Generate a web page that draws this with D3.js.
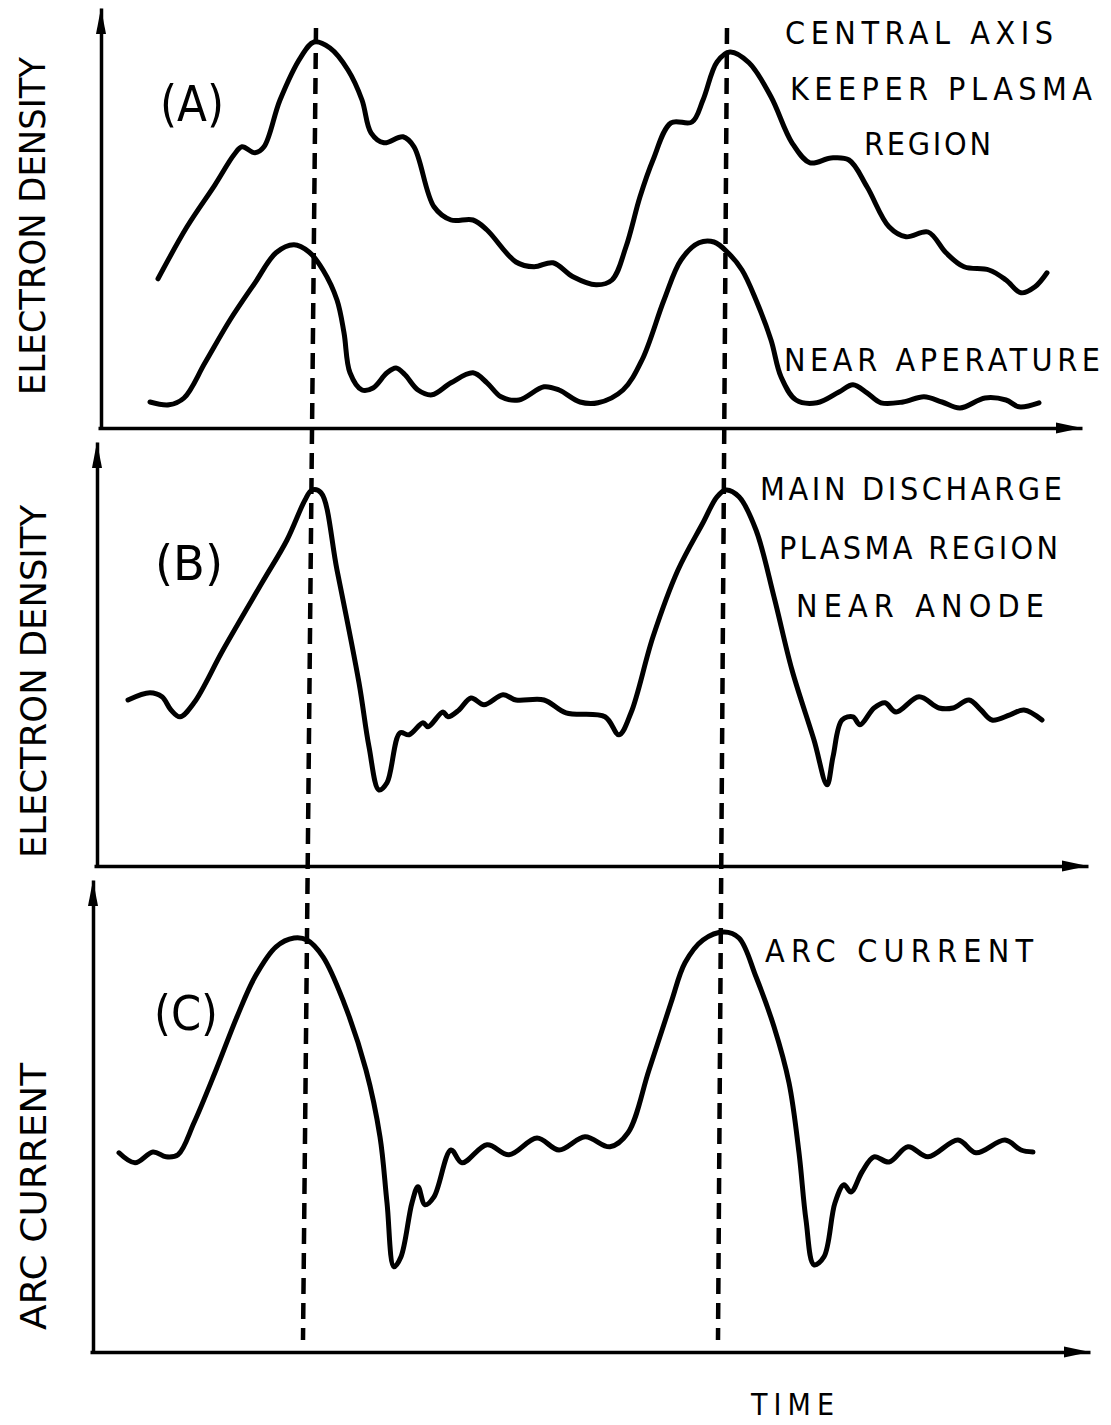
<!DOCTYPE html>
<html><head><meta charset="utf-8">
<script src="https://cdn.jsdelivr.net/npm/d3@7"></script>
<style>
html,body{margin:0;padding:0;background:#fff;}
svg{display:block;}
.lbl{font-family:"DejaVu Sans Condensed","DejaVu Sans",sans-serif;fill:#000;}
</style></head><body>
<svg id="chart" width="1111" height="1425"></svg>
<script>
// Shared time base for all traces (arbitrary units)
const timeDomain = [0, 100];

// (A) electron density on the central axis, keeper plasma region  [time, density]
const keeperRegion = [
  [5.8,37.3],[8.7,50.3],[11.5,60.8],[13.4,68.3],[14.2,70.3],[15.5,68.8],[16.4,70.3],
  [18.0,82.0],[20.1,92.8],[21.4,96.5],[23.0,95.0],[24.8,89.5],[26.2,82.0],[27.1,73.8],
  [28.4,71.3],[30.3,72.8],[31.4,70.3],[33.4,55.3],[35.1,52.0],[37.3,52.0],[38.7,49.5],
  [41.6,41.5],[43.4,40.3],[45.3,41.3],[47.3,37.8],[49.6,35.8],[51.2,37.0],[52.6,45.3],
  [54.0,57.8],[55.3,67.0],[57.1,76.3],[59.2,76.5],[60.3,82.0],[61.7,91.5],[63.0,94.0],
  [64.9,91.3],[67.1,82.8],[69.2,71.3],[71.0,66.3],[73.1,67.5],[74.9,67.0],[76.7,60.3],
  [78.9,50.3],[80.6,47.8],[82.8,49.0],[84.6,43.8],[86.4,40.3],[88.9,39.5],[90.6,37.0],
  [92.1,33.8],[93.5,35.3],[94.7,38.8]
];

// (A) electron density near the aperture
const nearAperture = [
  [5.0,6.5],[6.9,5.8],[8.4,7.5],[10.5,16.3],[13.0,27.0],[15.5,36.3],[17.6,43.8],
  [19.4,45.8],[20.9,44.0],[22.3,39.5],[23.7,32.0],[24.4,23.8],[25.0,13.8],[26.2,9.5],
  [27.3,10.0],[28.7,13.8],[29.6,15.0],[30.5,13.3],[31.8,9.5],[33.2,8.3],[35.1,11.3],
  [37.3,13.8],[38.7,11.3],[40.1,7.8],[41.9,7.0],[44.4,10.3],[45.9,9.5],[48.0,6.5],
  [49.8,6.3],[52.3,9.5],[54.2,17.0],[56.4,32.0],[58.1,42.0],[59.9,46.3],[61.4,46.5],
  [62.8,43.8],[64.2,39.5],[65.6,32.0],[67.1,22.0],[68.1,12.8],[69.6,7.0],[71.7,6.3],
  [73.9,9.0],[75.3,10.8],[76.7,8.8],[78.1,6.3],[80.3,6.5],[82.4,7.8],[84.2,6.5],
  [86.0,5.0],[88.5,7.5],[90.6,7.0],[91.9,5.3],[93.9,6.3]
];

// (B) electron density, main discharge plasma region near the anode
const nearAnode = [
  [2.8,41.5],[5.0,43.3],[6.2,42.3],[7.1,39.0],[8.0,37.3],[9.4,40.8],[12.3,54.0],
  [16.2,70.8],[18.7,81.5],[20.5,91.5],[21.2,94.0],[22.1,93.3],[23.7,74.0],[25.9,45.8],
  [26.9,29.8],[27.9,19.0],[28.7,20.8],[30.0,33.3],[30.9,32.8],[32.3,35.8],[32.8,34.8],
  [34.3,38.5],[34.8,37.3],[35.9,39.0],[37.1,42.0],[38.4,40.3],[40.3,42.8],[41.6,41.5],
  [44.4,41.5],[46.6,38.3],[50.5,37.3],[51.9,32.8],[53.1,38.3],[55.3,57.3],[57.8,74.0],
  [60.3,85.8],[61.7,92.3],[62.6,94.0],[63.9,92.3],[65.6,84.0],[67.4,67.3],[69.2,49.0],
  [71.4,31.5],[72.7,20.3],[73.3,27.3],[74.2,36.5],[75.3,37.3],[76.0,35.3],[77.4,39.5],
  [78.5,40.8],[79.6,38.5],[81.9,42.3],[83.9,39.5],[85.3,39.5],[86.9,41.5],[88.1,39.0],
  [89.2,36.5],[91.0,37.8],[92.4,39.0],[94.2,36.5]
];

// (C) arc current
const arcCurrent = [
  [1.9,49.8],[3.5,47.3],[5.3,50.0],[6.6,48.8],[7.8,49.3],[9.4,57.3],[11.6,70.5],
  [13.7,83.8],[15.5,93.8],[17.6,101.3],[19.4,103.5],[20.7,103.0],[22.3,98.8],[24.4,87.3],
  [26.6,70.5],[28.0,53.8],[28.7,37.3],[29.4,21.3],[30.1,23.8],[31.2,37.3],[31.8,41.3],
  [32.5,36.8],[33.4,38.8],[35.1,50.5],[36.2,47.3],[38.7,51.8],[40.9,49.3],[43.7,53.5],
  [45.9,50.5],[48.5,53.8],[51.0,51.3],[52.8,54.8],[54.9,70.5],[57.1,87.3],[58.5,97.3],
  [60.3,103.0],[62.4,105.0],[63.9,103.5],[65.6,93.8],[67.4,81.3],[68.9,67.3],[69.9,49.8],
  [70.6,33.0],[71.4,21.8],[72.4,23.8],[73.5,37.3],[74.4,41.8],[75.1,40.0],[76.2,45.0],
  [77.4,48.8],[78.9,47.5],[80.8,51.3],[82.8,48.8],[85.8,53.0],[87.6,49.8],[90.5,53.0],
  [92.1,50.5],[93.3,50.0]
];

// Times of the two density peaks, at the top and at the foot of the guide lines
const peakMarkers = [{top: 21.6, bottom: 20.3}, {top: 62.7, bottom: 61.8}];

const panelLetters = ["(A)", "(B)", "(C)"];
const yAxisTitles = ["ELECTRON DENSITY", "ELECTRON DENSITY", "ARC CURRENT"];
const keeperNote = ["CENTRAL AXIS", "KEEPER PLASMA", "REGION"];
const apertureNote = ["NEAR APERATURE"];
const anodeNote = ["MAIN DISCHARGE", "PLASMA REGION", "NEAR ANODE"];
const currentNote = ["ARC CURRENT"];
const xAxisTitle = "TIME";

const svg = d3.select("#chart");
const x = d3.scaleLinear().domain(timeDomain).range([100, 1100]);

const panels = [
  {base: 428, axisX: 101, yTop: 105, xEnd: 98.2, series: [keeperRegion, nearAperture],
   letter: {x: 160, y: 121, size: 50, len: 64}, title: {x: 45, y0: 395, len: 338},
   notes: [{lines: keeperNote, xs: [785, 790, 864], ys: [44, 100, 155], lens: [268, 302, 127]},
           {lines: apertureNote, xs: [784], ys: [371], lens: [316]}]},
  {base: 866, axisX: 97, yTop: 106, xEnd: 98.8, series: [nearAnode],
   letter: {x: 155, y: 580, size: 48, len: 68}, title: {x: 46, y0: 858, len: 353},
   notes: [{lines: anodeNote, xs: [760, 779, 796], ys: [500, 559, 617], lens: [302, 279, 248]}]},
  {base: 1352, axisX: 93, yTop: 118, xEnd: 99, series: [arcCurrent],
   letter: {x: 154, y: 1030, size: 48, len: 64}, title: {x: 46, y0: 1330, len: 267},
   notes: [{lines: currentNote, xs: [765], ys: [962], lens: [268]}]}
];

panels.forEach(p => { p.y = d3.scaleLinear().domain([0, 100]).range([p.base, p.base - 400]); });

const line = d3.line().curve(d3.curveCatmullRom.alpha(0.5));

panels.forEach((p, pi) => {
  const g = svg.append("g");

  // horizontal (time) axis
  const xa = d3.scaleLinear().domain([x.invert(p.axisX - 3), p.xEnd]).range([p.axisX - 3, x(p.xEnd)]);
  g.append("g").attr("transform", `translate(0,${p.base})`)
    .call(d3.axisBottom(xa).tickValues([]).tickSizeOuter(0))
    .call(s => s.select(".domain").attr("stroke", "#000").attr("stroke-width", 3.5));
  const tip = x(p.xEnd);
  g.append("path").attr("d", `M${tip},${p.base} L${tip - 26},${p.base - 5.5} L${tip - 26},${p.base + 5.5} Z`).attr("fill", "#000");

  // vertical axis
  const ya = d3.scaleLinear().domain([0, p.yTop]).range([p.base, p.y(p.yTop)]);
  g.append("g").attr("transform", `translate(${p.axisX},0)`)
    .call(d3.axisLeft(ya).tickValues([]).tickSizeOuter(0))
    .call(s => s.select(".domain").attr("stroke", "#000").attr("stroke-width", 3.5));
  const ty = p.y(p.yTop);
  g.append("path").attr("d", `M${p.axisX},${ty} L${p.axisX - 5},${ty + 26} L${p.axisX + 5},${ty + 26} Z`).attr("fill", "#000");

  // traces
  p.series.forEach(data => {
    g.append("path")
      .attr("d", line(data.map(d => [x(d[0]), p.y(d[1])])))
      .attr("fill", "none").attr("stroke", "#000").attr("stroke-width", 5)
      .attr("stroke-linejoin", "round").attr("stroke-linecap", "round");
  });

  // panel letter
  g.append("text").attr("class", "lbl").attr("x", p.letter.x).attr("y", p.letter.y)
    .attr("font-size", p.letter.size).attr("textLength", p.letter.len)
    .attr("lengthAdjust", "spacingAndGlyphs")
    .text(panelLetters[pi]);

  // vertical axis title
  g.append("text").attr("class", "lbl")
    .attr("transform", `translate(${p.title.x},${p.title.y0}) rotate(-90)`)
    .attr("font-size", 36).attr("textLength", p.title.len).attr("lengthAdjust", "spacingAndGlyphs")
    .text(yAxisTitles[pi]);

  // curve notes
  p.notes.forEach(n => {
    n.lines.forEach((t, i) => {
      g.append("text").attr("class", "lbl").attr("x", n.xs[i]).attr("y", n.ys[i])
        .attr("font-size", 32).attr("textLength", n.lens[i]).attr("lengthAdjust", "spacing")
        .text(t);
    });
  });
});

// dashed guides through the density peaks, spanning all three panels
const yTopGuide = panels[0].y(100), yBottomGuide = panels[2].y(3);
svg.append("g").selectAll("line").data(peakMarkers).join("line")
  .attr("x1", d => x(d.top)).attr("y1", yTopGuide)
  .attr("x2", d => x(d.bottom)).attr("y2", yBottomGuide)
  .attr("stroke", "#000").attr("stroke-width", 4.5).attr("stroke-dasharray", "16 9");

// time axis title
svg.append("text").attr("class", "lbl").attr("x", 751).attr("y", 1415)
  .attr("font-size", 30).attr("textLength", 83).attr("lengthAdjust", "spacing")
  .text(xAxisTitle);
</script>
</body></html>
